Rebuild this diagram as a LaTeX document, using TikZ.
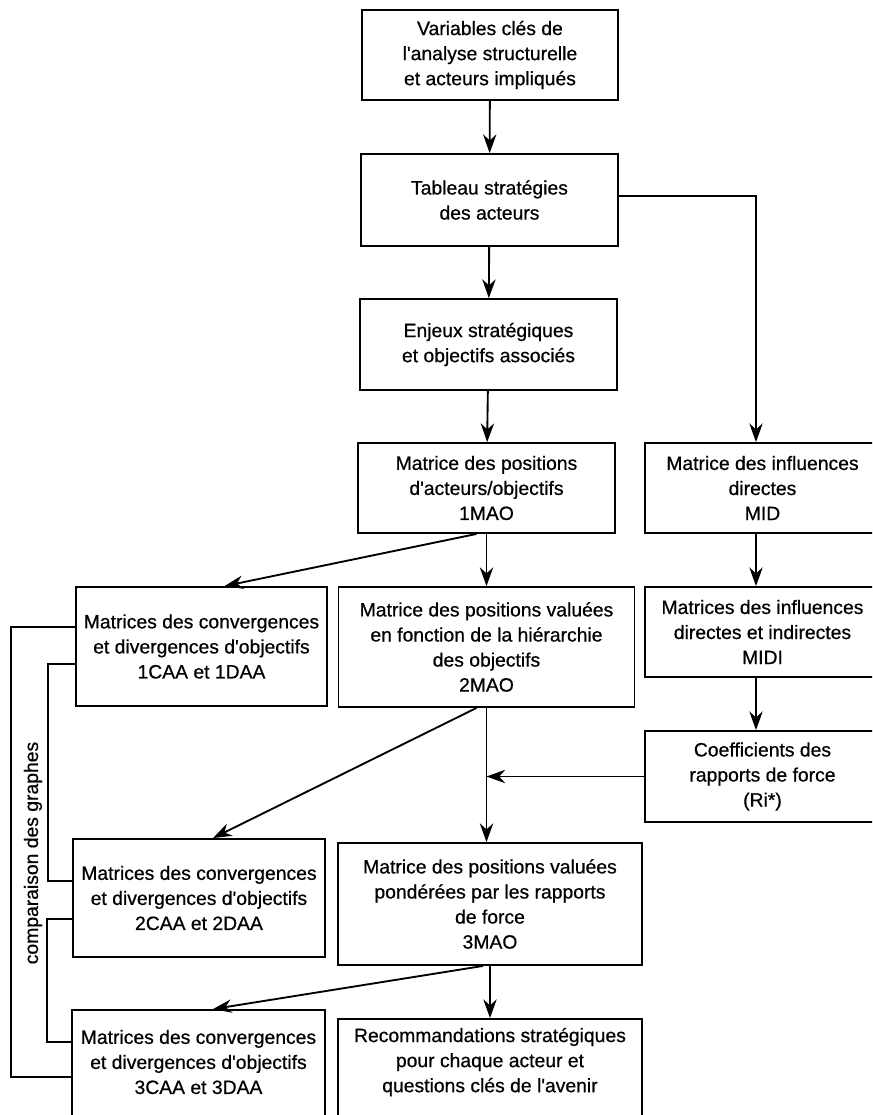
\documentclass[tikz,border=0pt]{standalone}
\usepackage{fontspec}
\setmainfont{Liberation Sans}[FakeBold=0.6]
\newfontfamily\boxfont{Liberation Sans}[FakeBold=0.6]
\usetikzlibrary{arrows.meta,calc}
\tikzset{
  box/.style={draw, line width=1.4pt, align=center, inner sep=2pt,
              font=\boxfont\fontsize{14.5}{18.8}\selectfont},
  txt/.style={align=center, inner sep=0pt, font=\boxfont\fontsize{14.5}{18.8}\selectfont},
  arr/.style={line width=1.4pt, -{Stealth[length=14pt,width=10pt,inset=4.5pt]}},
  ln/.style={line width=1.3pt},
}
\begin{document}
\begin{tikzpicture}[x=0.75pt,y=-0.75pt]
\useasboundingbox (0,0) rectangle (872,1115);
\clip (0,0) rectangle (872,1115);
% central column
\node[box, minimum width=192pt, minimum height=67.5pt] (b1) at (490,55)
  {Variables clés de\\l'analyse structurelle\\et acteurs impliqués};
\node[box, minimum width=192.75pt, minimum height=69pt] (b2) at (489.5,200)
  {Tableau stratégies\\des acteurs};
\node[box, minimum width=192.75pt, minimum height=68.25pt] (b3) at (488.5,344.5)
  {Enjeux stratégiques\\et objectifs associés};
\node[box, minimum width=192.75pt, minimum height=67.5pt] (b4) at (486.5,488)
  {Matrice des positions\\d'acteurs/objectifs\\1MAO};
\node[box, minimum width=222pt, minimum height=90pt] (m2) at (486.5,647)
  {Matrice des positions valuées\\en fonction de la hiérarchie\\des objectifs\\2MAO};
\node[box, minimum width=228pt, minimum height=91.5pt] (m3) at (490,904)
  {Matrice des positions valuées\\pondérées par les rapports\\de force\\3MAO};
\node[box, minimum width=228pt, minimum height=83.25pt] (rec) at (490,1074.5) {};
\node[txt] (rectxt) at (490,1062)
  {Recommandations stratégiques\\pour chaque acteur et\\questions clés de l'avenir};
% right column
\node[box, minimum width=176.25pt, minimum height=67.5pt] (mid) at (762.5,488)
  {Matrice des influences\\directes\\MID};
\node[box, minimum width=176.25pt, minimum height=67.5pt] (midi) at (762.5,632)
  {Matrices des influences\\directes et indirectes\\MIDI};
\node[box, minimum width=176.25pt, minimum height=68.25pt] (coef) at (762.5,776.5)
  {Coefficients des\\rapports de force\\(Ri*)};
% left column
\node[box, minimum width=188.25pt, minimum height=89.25pt] (c1) at (201.5,646.5)
  {Matrices des convergences\\et divergences d'objectifs\\1CAA et 1DAA};
\node[box, minimum width=189pt, minimum height=88.5pt] (c2) at (199,898)
  {Matrices des convergences\\et divergences d'objectifs\\2CAA et 2DAA};
\node[box, minimum width=189.75pt, minimum height=90pt] (c3) at (198.5,1070) {};
\node[txt] (c3txt) at (198.5,1062)
  {Matrices des convergences\\et divergences d'objectifs\\3CAA et 3DAA};
% helper coordinate for right column
\coordinate (rx) at (756,0);
% arrows central
\draw[arr] (b1) -- (b2);
\draw[arr] (b2) -- (b3);
\draw[arr] (b3) -- (b4);
\draw[arr] (b4) -- (m2);
\draw[arr] (m2.south) -- (m2.south |- m3.north);
\draw[arr] (m3.south) -- (m3.south |- rec.north);
% right column
\draw[arr] ($(b2.east)+(0,-4)$) -| (mid.north -| rx);
\draw[arr] (mid.south -| rx) -- (midi.north -| rx);
\draw[arr] (midi.south -| rx) -- (coef.north -| rx);
\draw[arr] (coef.west) -- (coef.west -| m2.south);
% diagonals
\draw[arr] ($(b4.south)+(-10,0)$) -- ($(c1.north)+(23,0)$);
\draw[arr] ($(m2.south)+(-10,0)$) -- ($(c2.north)+(14,0)$);
\draw[arr] ($(m3.south)+(-7,0)$) -- ($(c3.north)+(14.5,0)$);
% comparison brackets
\draw[ln] ($(c1.north west)+(0,41)$) -- ++(-64,0) |- ($(c3.north west)+(0,68)$);
\draw[ln] ($(c1.north west)+(0,78)$) -- ++(-27,0) |- ($(c2.north west)+(0,43)$);
\draw[ln] ($(c2.north west)+(0,81)$) -- ++(-25,0) |- ($(c3.north west)+(0,33)$);
\node[txt, rotate=90] (cmp) at (33,853) {comparaison des graphes};
\end{tikzpicture}
\end{document}
